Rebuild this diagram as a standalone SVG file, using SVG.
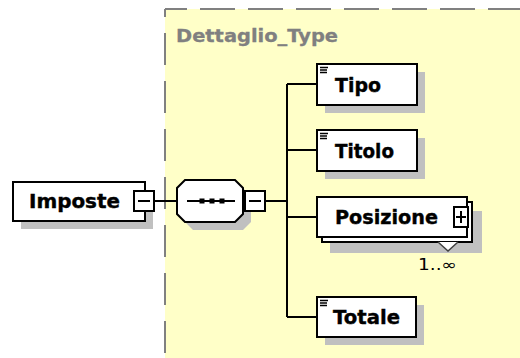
<svg xmlns="http://www.w3.org/2000/svg" width="520" height="358" viewBox="0 0 520 358">
<defs>
<style>
.box{fill:#fff;stroke:#000;stroke-width:2}
.sh{fill:#c0c0c0}
.ln{stroke:#000;stroke-width:2;fill:none}
.t{font-family:"DejaVu Sans","Liberation Sans",sans-serif;font-weight:bold;font-size:20px;fill:#000;stroke:#000;stroke-width:0.4}
.ic{stroke:#000;stroke-width:1.3}
</style>
</defs>
<rect width="520" height="358" fill="#fff"/>
<g id="complexType">
<rect x="165" y="9" width="360" height="360" fill="#ffffc8"/>
<path d="M165,9 H520" stroke="#808080" stroke-width="2" stroke-dasharray="35 13" stroke-dashoffset="13" fill="none"/>
<path d="M165,9 V358" stroke="#808080" stroke-width="2" stroke-dasharray="32 16" stroke-dashoffset="24" fill="none"/>
<text x="176" y="42" font-family="DejaVu Sans, Liberation Sans, sans-serif" font-weight="bold" font-size="18" fill="#808080" stroke="#808080" stroke-width="0.3" textLength="162" lengthAdjust="spacingAndGlyphs">Dettaglio_Type</text>
</g>
<g id="connectors">
<path class="ln" d="M154,201 H177"/>
<path class="ln" d="M265,201 H287"/>
<path class="ln" d="M287,84 V317"/>
<path class="ln" d="M287,84 H317 M287,150 H317 M287,217 H317 M287,317 H317"/>
</g>
<g id="Imposte">
<rect class="sh" x="21" y="190" width="132" height="39"/>
<rect class="box" x="13" y="182" width="132" height="39"/>
<text class="t" x="29" y="208" textLength="91" lengthAdjust="spacingAndGlyphs">Imposte</text>
<rect class="box" x="134" y="191" width="20" height="20"/>
<path class="ln" d="M138,201 H150"/>
</g>
<g id="sequence">
<polygon class="sh" points="193,188 243,188 251,196 251,222 243,230 193,230 185,222 185,196"/>
<polygon class="box" points="185,180 235,180 243,188 243,214 235,222 185,222 177,214 177,188"/>
<path class="ln" d="M187,201 H235"/>
<rect x="199.5" y="198.5" width="5" height="5" fill="#000"/>
<rect x="209.5" y="198.5" width="5" height="5" fill="#000"/>
<rect x="219.5" y="198.5" width="5" height="5" fill="#000"/>
<rect class="box" x="245" y="191" width="20" height="20"/>
<path class="ln" d="M249,201 H261"/>
</g>
<g id="Tipo">
<rect class="sh" x="325" y="72" width="100" height="41"/>
<rect class="box" x="317" y="64" width="100" height="41"/>
<path class="ic" d="M320,67.5 H328 M320,70 H327 M320,72.5 H327"/>
<text class="t" x="335" y="92" textLength="46" lengthAdjust="spacingAndGlyphs">Tipo</text>
</g>
<g id="Titolo">
<rect class="sh" x="325" y="138" width="100" height="41"/>
<rect class="box" x="317" y="130" width="100" height="41"/>
<path class="ic" d="M320,133.5 H328 M320,136 H327 M320,138.5 H327"/>
<text class="t" x="335" y="158" textLength="59" lengthAdjust="spacingAndGlyphs">Titolo</text>
</g>
<g id="Posizione">
<rect class="sh" x="330" y="211" width="152" height="42"/>
<rect class="box" x="322" y="202" width="150" height="40"/>
<path d="M438,242 L448,251 L458,242" fill="#fff" stroke="#404040" stroke-width="1.5"/>
<rect class="box" x="317" y="197" width="150" height="40"/>
<text class="t" x="335" y="224" textLength="103" lengthAdjust="spacingAndGlyphs">Posizione</text>
<rect class="box" x="454" y="207" width="14" height="20"/>
<path class="ln" d="M456,217 H466 M461,211 V223"/>
<text x="418" y="270" font-family="DejaVu Sans, Liberation Sans, sans-serif" font-size="15" fill="#000" textLength="39" lengthAdjust="spacingAndGlyphs">1..∞</text>
</g>
<g id="Totale">
<rect class="sh" x="325" y="305" width="99" height="40"/>
<rect class="box" x="317" y="297" width="99" height="40"/>
<path class="ic" d="M320,300.5 H328 M320,303 H327 M320,305.5 H327"/>
<text class="t" x="333" y="324" textLength="67" lengthAdjust="spacingAndGlyphs">Totale</text>
</g>
</svg>
